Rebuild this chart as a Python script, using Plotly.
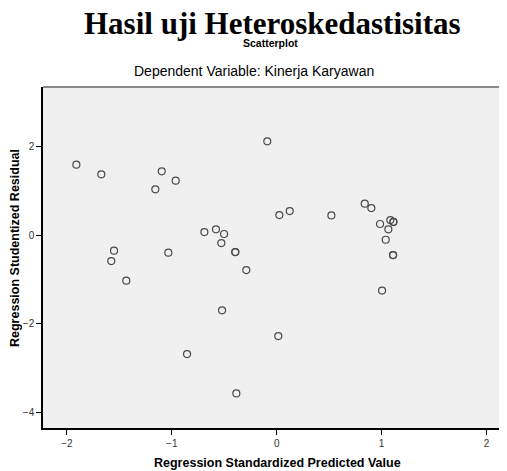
import plotly.graph_objects as go

# Regression Standardized Predicted Value
pred = [-1.910, -1.672, -1.096, -1.157, -0.963, -1.551, -1.577, -1.434, -1.033,
        -0.690, -0.579, -0.502, -0.528, -0.395, -0.395, -0.290,
        -0.090, 0.025, 0.124, 0.521, 0.839, 0.902, 0.985, 1.083, 1.112, 1.112,
        1.064, 1.039, 1.109, 1.109, 1.004,
        -0.521, -0.855, -0.385, 0.015]
# Regression Studentized Residual
resid = [1.589, 1.371, 1.439, 1.032, 1.228, -0.354, -0.588, -1.032, -0.399,
         0.068, 0.128, 0.023, -0.181, -0.384, -0.384, -0.791,
         2.117, 0.452, 0.542, 0.444, 0.708, 0.610, 0.249, 0.339, 0.294, 0.300,
         0.128, -0.106, -0.452, -0.452, -1.255,
         -1.702, -2.689, -3.578, -2.282]

x_ticks = [-2, -1, 0, 1, 2]
y_ticks = [-4, -2, 0, 2]

# page has an 8px body margin; figure placed at (8, 8)
OFF = 8
W, H = 507 - OFF, 471 - OFF
L, T, B = 43 - OFF, 87 - OFF, 471 - 428
PW, PH = W - L, H - T - B


def px(xp):
    return (xp - 43) / PW


def py(yp):
    return (428 - yp) / PH


fig = go.Figure()
fig.add_trace(go.Scatter(
    x=pred, y=resid, mode="markers",
    marker=dict(symbol="circle-open", size=7, color="#4a4a4a", line=dict(width=1.2)),
    showlegend=False, hoverinfo="x+y",
))

fig.update_layout(
    width=W, height=H,
    margin=dict(l=L, r=0, t=T, b=B),
    paper_bgcolor="white",
    plot_bgcolor="#f0f0f0",
    font=dict(family="Liberation Sans, Arial, sans-serif", color="#000"),
    xaxis=dict(range=[-2.228, 2.195], tickvals=x_ticks, ticks="outside", ticklen=5,
               tickcolor="#000", tickwidth=1, showgrid=False, zeroline=False,
               showline=True, linecolor="#000", linewidth=1.5,
               tickfont=dict(size=10, color="#333")),
    yaxis=dict(range=[-4.36, 3.345], tickvals=y_ticks, ticks="outside", ticklen=5,
               tickcolor="#000", tickwidth=1, showgrid=False, zeroline=False,
               showline=True, linecolor="#000", linewidth=1.5,
               tickfont=dict(size=10, color="#333")),
    shapes=[dict(type="line", xref="paper", yref="paper", x0=0, x1=1, y0=1, y1=1,
                 line=dict(color="#666", width=1.5))],
    annotations=[
        dict(text="<b>Hasil uji Heteroskedastisitas</b>", xref="paper", yref="paper",
             x=px(272), y=py(24), xanchor="center", yanchor="middle", showarrow=False,
             font=dict(family="Liberation Serif, Times New Roman, serif", size=31)),
        dict(text="<b>Scatterplot</b>", xref="paper", yref="paper",
             x=px(270), y=py(43), xanchor="center", yanchor="middle", showarrow=False,
             font=dict(size=10.5)),
        dict(text="Dependent Variable: Kinerja Karyawan", xref="paper", yref="paper",
             x=px(254), y=py(71), xanchor="center", yanchor="middle", showarrow=False,
             font=dict(size=14)),
        dict(text="<b>Regression Standardized Predicted Value</b>", xref="paper", yref="paper",
             x=px(277), y=py(463), xanchor="center", yanchor="middle", showarrow=False,
             font=dict(size=12.5)),
        dict(text="<b>Regression Studentized Residual</b>", xref="paper", yref="paper",
             x=px(15), y=py(248), xanchor="center", yanchor="middle", showarrow=False,
             textangle=-90, font=dict(size=12.5)),
    ],
)

fig.write_html("out.html")
